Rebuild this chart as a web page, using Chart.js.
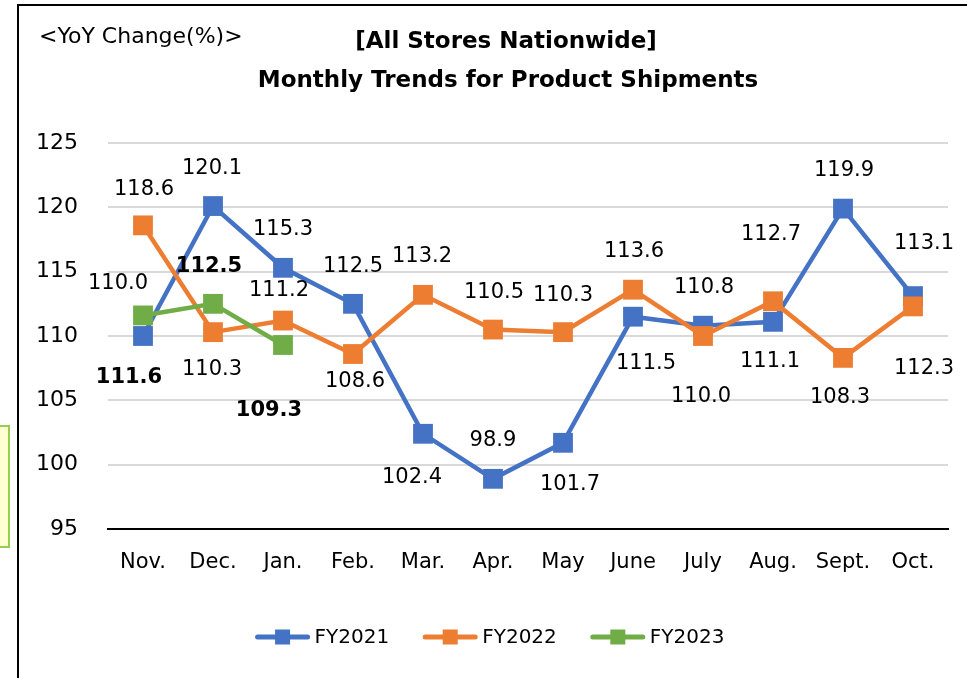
<!DOCTYPE html>
<html>
<head>
<meta charset="utf-8">
<script src="https://cdn.jsdelivr.net/npm/chart.js@4.4.1/dist/chart.umd.min.js"></script>
<style>
  html, body { margin: 0; padding: 0; background: #fff; overflow: hidden; }
  #wrap { position: relative; width: 967px; height: 678px; overflow: hidden; }
  .frame { position: absolute; left: 17px; top: 4px; width: 990px; height: 720px; border: 2px solid #000; box-sizing: border-box; }
  .note { position: absolute; left: -20px; top: 425px; width: 30px; height: 123px; background: #ffffd1; border: 2px solid #92d050; box-sizing: border-box; }
  canvas { position: absolute; left: 0; top: 0; }
</style>
</head>
<body>
<div id="wrap">
  <div class="frame"></div>
  <div class="note"></div>
  <canvas id="chart" width="967" height="678"></canvas>
</div>
<script>
// chart values
const months = ['Nov.', 'Dec.', 'Jan.', 'Feb.', 'Mar.', 'Apr.', 'May', 'June', 'July', 'Aug.', 'Sept.', 'Oct.'];
const seriesNames = ['FY2021', 'FY2022', 'FY2023'];
const fy2021 = [110.0, 120.1, 115.3, 112.5, 102.4, 98.9, 101.7, 111.5, 110.8, 111.1, 119.9, 113.1];
const fy2022 = [118.6, 110.3, 111.2, 108.6, 113.2, 110.5, 110.3, 113.6, 110.0, 112.7, 108.3, 112.3];
const fy2023 = [111.6, 112.5, 109.3];
const yMin = 95, yMax = 125, yStep = 5;

const FONT = '"DejaVu Sans", sans-serif';
const colors = ['#4472C4', '#ED7D31', '#70AD47'];

// where each value label sits, relative to its point (dx, dy)
const labelOffsets = [
  [[-25, -52], [-1, -37], [0, -38], [0, -37], [-11, 44], [0, -38], [7, 42], [13, 47], [1, -38], [-3, 40], [1, -38], [11, -53]],
  [[1, -36], [-1, 37], [-4, -30], [2, 28], [-1, -38], [1, -37], [0, -37], [1, -38], [-2, 61], [-2, -67], [-3, 40], [11, 62]],
  [[-14, 62], [-4, -37], [-14, 66]]
];

const valueLabels = {
  id: 'valueLabels',
  afterDatasetsDraw(chart) {
    const ctx = chart.ctx;
    ctx.save();
    ctx.textAlign = 'center';
    ctx.textBaseline = 'middle';
    ctx.fillStyle = '#000';
    chart.data.datasets.forEach((ds, i) => {
      const meta = chart.getDatasetMeta(i);
      ctx.font = (i === 2 ? 'bold ' : '') + '21px ' + FONT;
      meta.data.forEach((pt, j) => {
        const off = labelOffsets[i][j];
        ctx.fillText(ds.data[j].toFixed(1), pt.x + off[0], pt.y + off[1]);
      });
    });
    ctx.restore();
  }
};

const headerText = {
  id: 'headerText',
  afterDraw(chart) {
    const ctx = chart.ctx;
    ctx.save();
    ctx.fillStyle = '#000';
    ctx.textBaseline = 'middle';
    ctx.font = '22px ' + FONT;
    ctx.textAlign = 'left';
    ctx.fillText('<YoY Change(%)>', 39, 37);
    ctx.font = 'bold 23px ' + FONT;
    ctx.textAlign = 'center';
    ctx.fillText('[All Stores Nationwide]', 506, 42);
    ctx.fillText('Monthly Trends for Product Shipments', 508, 81);
    ctx.restore();
  }
};

// Excel-style legend: line with a square marker
const bottomLegend = {
  id: 'bottomLegend',
  afterDraw(chart) {
    const ctx = chart.ctx;
    ctx.save();
    ctx.font = '20px ' + FONT;
    ctx.textBaseline = 'middle';
    const iconW = 54, gap = 5, spacing = 34, y = 637;
    const widths = chart.data.datasets.map(ds => ctx.measureText(ds.label).width);
    const total = widths.reduce((a, w) => a + iconW + gap + w, 0) + spacing * (widths.length - 1);
    let x = 490 - total / 2;
    chart.data.datasets.forEach((ds, i) => {
      ctx.strokeStyle = ds.borderColor;
      ctx.lineWidth = 5;
      ctx.lineCap = 'round';
      ctx.beginPath();
      ctx.moveTo(x + 2, y);
      ctx.lineTo(x + iconW - 2, y);
      ctx.stroke();
      ctx.fillStyle = ds.borderColor;
      ctx.fillRect(x + iconW / 2 - 7.5, y - 7.5, 15, 15);
      ctx.fillStyle = '#000';
      ctx.textAlign = 'left';
      ctx.fillText(ds.label, x + iconW + gap, y + 1);
      x += iconW + gap + widths[i] + spacing;
    });
    ctx.restore();
  }
};

function lineSet(label, data, color, order) {
  return {
    label: label,
    data: data,
    borderColor: color,
    backgroundColor: color,
    borderWidth: 4.5,
    pointStyle: 'rect',
    pointRadius: 14,
    pointBorderWidth: 0,
    pointBackgroundColor: color,
    tension: 0,
    order: order
  };
}

new Chart(document.getElementById('chart'), {
  type: 'line',
  data: {
    labels: months,
    datasets: [
      lineSet(seriesNames[0], fy2021, colors[0], 3),
      lineSet(seriesNames[1], fy2022, colors[1], 2),
      lineSet(seriesNames[2], fy2023, colors[2], 1)
    ]
  },
  options: {
    responsive: false,
    animation: false,
    layout: { padding: { top: 143, bottom: 99, left: 20, right: 19 } },
    plugins: {
      legend: { display: false },
      title: { display: false },
      tooltip: { enabled: false }
    },
    scales: {
      x: {
        offset: true,
        grid: { display: false, drawTicks: false },
        border: { display: true, color: '#000', width: 2 },
        ticks: { color: '#000', font: { family: FONT, size: 21 }, padding: 21, maxRotation: 0, autoSkip: false },
        afterFit(axis) { axis.height = 50; }
      },
      y: {
        min: yMin,
        max: yMax,
        grid: {
          drawTicks: false,
          lineWidth: 2,
          color: c => (c.tick && c.tick.value === yMin) ? 'rgba(0,0,0,0)' : '#d9d9d9'
        },
        border: { display: false },
        ticks: { stepSize: yStep, color: '#000', font: { family: FONT, size: 22 }, padding: 30 },
        afterFit(axis) { axis.width = 88; }
      }
    }
  },
  plugins: [valueLabels, headerText, bottomLegend]
});
</script>
</body>
</html>
